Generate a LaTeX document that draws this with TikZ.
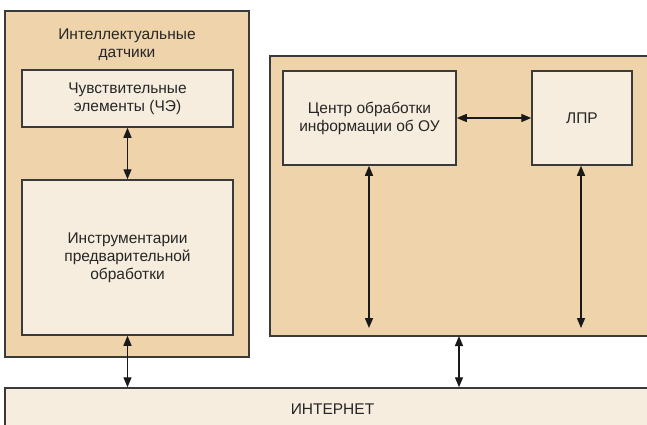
\documentclass[tikz,border=0pt]{standalone}
\usepackage{fontspec}
\setmainfont{Liberation Sans}
\usetikzlibrary{arrows.meta}
\definecolor{tan}{HTML}{EED3AB}
\definecolor{pale}{HTML}{F7EDDF}
\definecolor{edge}{HTML}{3A3A3A}
\begin{document}
\begin{tikzpicture}[x=1pt,y=-1pt,
  outer/.style={draw=edge,line width=1.5pt,fill=tan,inner sep=0pt},
  inner/.style={draw=edge,line width=1.5pt,fill=pale,align=center,inner sep=0pt,font=\fontsize{15.5}{18}\selectfont,text=black!85},
  lbl/.style={align=center,font=\fontsize{15.5}{18}\selectfont,text=black!85},
  dbl/.style={line width=1.4pt,draw=black!90,{Triangle[length=10pt,width=8pt]}-{Triangle[length=10pt,width=8pt]}}]
\useasboundingbox (0,0) rectangle (647,425);
\clip (0,0) rectangle (647,425);
% left block
\node[outer,minimum width=244pt,minimum height=346pt] (lout) at (127,184) {};
\node[lbl] (ltitle) at (127,45) {Интеллектуальные\\датчики};
\node[inner,minimum width=211pt,minimum height=57pt] (che) at (127.5,98.5) {Чувствительные\\элементы (ЧЭ)};
\node[inner,minimum width=211pt,minimum height=155pt] (instr) at (127.5,257.5) {Инструментарии\\предварительной\\обработки};
% right block
\node[outer,minimum width=390pt,minimum height=280pt] (rout) at (465,196) {};
\node[inner,minimum width=173pt,minimum height=94pt] (cent) at (369.5,118) {Центр обработки\\информации об ОУ};
\node[inner,minimum width=100pt,minimum height=94pt] (lpr) at (582,118) {ЛПР};
% internet
\node[inner,minimum width=655pt,minimum height=42pt] (net) at (332.5,409) {ИНТЕРНЕТ};
\coordinate (c1) at (369,328);
\coordinate (c2) at (581,328);
\coordinate (r1) at (459,336);
% arrows
\draw[dbl] (che.south) -- (instr.north);
\draw[dbl] (instr.south) -- (instr.south |- net.north);
\draw[dbl] (cent.east) -- (lpr.west);
\draw[dbl] (cent.south -| c1) -- (c1);
\draw[dbl] (lpr.south -| c2) -- (c2);
\draw[dbl] (r1) -- (r1 |- net.north);
\end{tikzpicture}
\end{document}
